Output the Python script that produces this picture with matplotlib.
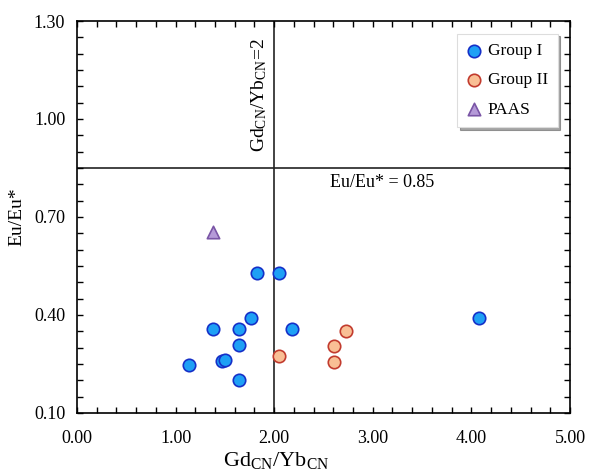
import matplotlib.pyplot as plt
from matplotlib.ticker import MultipleLocator

plt.rcParams['font.family'] = ['Liberation Serif', 'DejaVu Serif']
plt.rcParams['mathtext.fontset'] = 'custom'
plt.rcParams['mathtext.rm'] = 'Liberation Serif'
plt.rcParams['mathtext.it'] = 'Liberation Serif:italic'

# Gd_CN/Yb_CN vs Eu/Eu*
group1_x = [1.14, 1.47, 1.50, 1.64, 1.64, 1.64, 1.38, 1.76, 1.83, 2.05, 2.18, 4.08]
group1_y = [0.247, 0.259, 0.262, 0.200, 0.308, 0.357, 0.357, 0.391, 0.528, 0.528, 0.357, 0.391]
group2_x = [2.05, 2.61, 2.61, 2.73]
group2_y = [0.274, 0.305, 0.256, 0.351]
paas_x = [1.38]
paas_y = [0.654]

fig = plt.figure(figsize=(5.9, 4.73), dpi=100)
ax = fig.add_axes([0.1305, 0.127, 0.8355, 0.8286])

ax.axvline(2.0, color='#222222', lw=1.2, zorder=1)
ax.axhline(0.85, color='#222222', lw=1.2, zorder=1)

ax.scatter(group1_x, group1_y, s=80, c='#1EA0F5', edgecolors='#1530C8',
           linewidths=1.2, label='Group I', zorder=3)
ax.scatter(group2_x, group2_y, s=80, c='#F9BF95', edgecolors='#C23B2E',
           linewidths=1.2, label='Group II', zorder=3)
ax.scatter(paas_x, paas_y, s=80, marker='^', c='#B59AD8', edgecolors='#7A55A6',
           linewidths=1.2, label='PAAS', zorder=3)

ax.text(1.85, 1.073, r'Gd$_{\rm CN}$/Yb$_{\rm CN}$=2', rotation=90,
        ha='center', va='center', fontsize=14)
ax.text(3.09, 0.804, 'Eu/Eu* = 0.85', ha='center', va='center', fontsize=13)

ax.set_xlim(0, 5)
ax.set_ylim(0.1, 1.3)
ax.set_xticks([0, 1, 2, 3, 4, 5])
ax.set_yticks([0.1, 0.4, 0.7, 1.0, 1.3])
ax.xaxis.set_minor_locator(MultipleLocator(0.2))
ax.yaxis.set_minor_locator(MultipleLocator(0.05))
ax.xaxis.set_major_formatter(lambda v, p: f'{v:.2f}')
ax.yaxis.set_major_formatter(lambda v, p: f'{v:.2f}')
ax.tick_params(which='both', direction='in', top=True, right=True,
               length=4.5, width=1, labelsize=13)
ax.tick_params(axis='x', pad=12)
ax.tick_params(axis='y', pad=8.5)
for s in ax.spines.values():
    s.set_linewidth(1.2)

ax.set_xlabel(r'Gd$_{\rm CN}$/Yb$_{\rm CN}$', fontsize=16)
ax.xaxis.set_label_coords(0.404, -0.094)
ax.set_ylabel('Eu/Eu*', fontsize=14)
ax.yaxis.set_label_coords(-0.104, 0.5)

leg = ax.legend(loc='upper right', bbox_to_anchor=(0.975, 0.968), fontsize=12.5,
                shadow=True, fancybox=False, edgecolor='#dddddd',
                handletextpad=0.4, borderpad=0.55, labelspacing=0.75,
                handlelength=0.8, borderaxespad=0)
leg.get_frame().set_linewidth(0.8)

fig.savefig('out.png', dpi=100)
